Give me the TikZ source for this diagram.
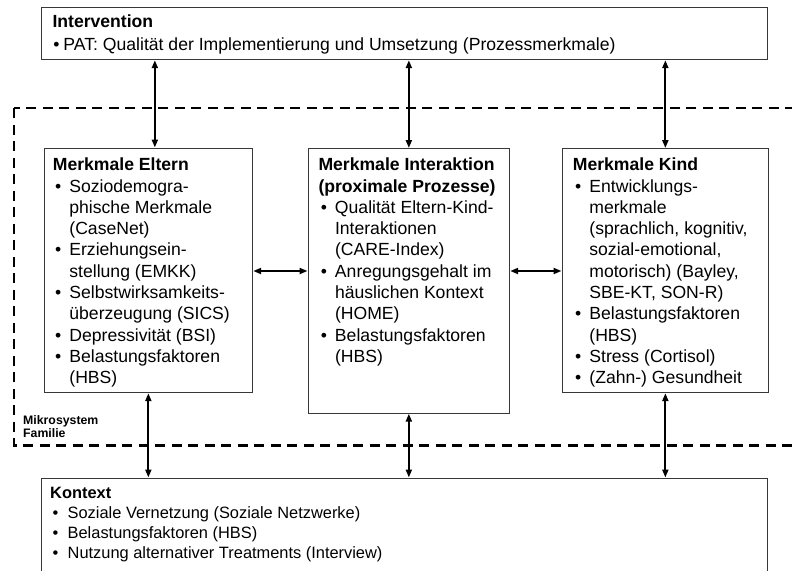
\documentclass[tikz,border=0pt]{standalone}
\usepackage{fontspec}
\setmainfont{Liberation Sans}
\usetikzlibrary{arrows.meta}
\newcommand{\bul}{\makebox[16.5pt][l]{\hspace{2.3pt}\textbullet}}
\newcommand{\ind}{\hspace*{16.5pt}}
\newcommand{\kbul}{\makebox[17.5pt][l]{\hspace{2.5pt}\textbullet}}
\tikzset{
  box/.style={draw=black!78, line width=1.2pt, fill=white, anchor=north west, inner sep=0pt},
  txt/.style={anchor=north west, inner sep=0pt, align=left, font=\fontsize{17.6}{21.3}\selectfont},
  ktxt/.style={anchor=north west, inner sep=0pt, align=left, font=\fontsize{16.4}{20}\selectfont},
  frame/.style={line width=2.2pt, dash pattern=on 10pt off 6.5pt},
  arr/.style={line width=2pt, {Triangle[length=8pt,width=6pt]}-{Triangle[length=8pt,width=6pt]}},
  lbl/.style={anchor=north west, inner sep=0pt, align=left, font=\fontsize{12.3}{13.2}\selectfont\bfseries}
}
\begin{document}
\begin{tikzpicture}[x=1pt,y=-1pt]
\useasboundingbox (0,0) rectangle (792,570);
\fill[white] (0,0) rectangle (792,570);

% dashed microsystem frame
\draw[frame] (14,108.3) rectangle (810,445.5);
\node[lbl] (mikro) at (23,415) {Mikrosystem\\Familie};

% boxes
\node[box, minimum width=726pt, minimum height=52pt] (interv) at (41,7) {};
\node[box, minimum width=208.5pt, minimum height=244.5pt] (eltern) at (43.5,147.5) {};
\node[box, minimum width=201.5pt, minimum height=264.5pt] (inter) at (307.5,148) {};
\node[box, minimum width=206.5pt, minimum height=244pt] (kind) at (561.5,148) {};
\node[box, minimum width=726pt, minimum height=130pt] (kontext) at (41,477.5) {};

% texts
\node[txt] (t-interv) at (52.3,14.8) {\textbf{Intervention}\\[1.2pt]
\makebox[11pt][l]{\hspace{0.8pt}\textbullet}PAT: Qualität der Implementierung und Umsetzung (Prozessmerkmale)};

\node[txt] (t-eltern) at (52.7,157.8) {\textbf{Merkmale Eltern}\\
\bul Soziodemogra-\\
\ind phische Merkmale\\
\ind (CaseNet)\\
\bul Erziehungsein-\\
\ind stellung (EMKK)\\
\bul Selbstwirksamkeits-\\
\ind überzeugung (SICS)\\
\bul Depressivität (BSI)\\
\bul Belastungsfaktoren\\
\ind (HBS)};

\node[txt] (t-inter) at (318.3,157.8) {\textbf{Merkmale Interaktion}\\
\textbf{(proximale Prozesse)}\\
\bul Qualität Eltern-Kind-\\
\ind Interaktionen\\
\ind (CARE-Index)\\
\bul Anregungsgehalt im\\
\ind häuslichen Kontext\\
\ind (HOME)\\
\bul Belastungsfaktoren\\
\ind (HBS)};

\node[txt] (t-kind) at (572.7,157.8) {\textbf{Merkmale Kind}\\
\bul Entwicklungs-\\
\ind merkmale\\
\ind (sprachlich, kognitiv,\\
\ind sozial-emotional,\\
\ind motorisch) (Bayley,\\
\ind SBE-KT, SON-R)\\
\bul Belastungsfaktoren\\
\ind (HBS)\\
\bul Stress (Cortisol)\\
\bul (Zahn-) Gesundheit};

\node[ktxt] (t-kontext) at (50,487.5) {\textbf{Kontext}\\
\kbul Soziale Vernetzung (Soziale Netzwerke)\\
\kbul Belastungsfaktoren (HBS)\\
\kbul Nutzung alternativer Treatments (Interview)};

% connectors
\coordinate (eltop) at ([xshift=6.5pt]eltern.north);
\coordinate (hline) at (0,271);
\draw[arr] (eltop |- interv.south) -- (eltop);
\draw[arr] (inter.north |- interv.south) -- (inter.north);
\draw[arr] (kind.north |- interv.south) -- (kind.north);
\draw[arr] (eltern.east |- hline) -- (inter.west |- hline);
\draw[arr] (inter.east |- hline) -- (kind.west |- hline);
\draw[arr] (eltern.south) -- (eltern.south |- kontext.north);
\draw[arr] (inter.south) -- (inter.south |- kontext.north);
\draw[arr] (kind.south) -- (kind.south |- kontext.north);
\end{tikzpicture}
\end{document}
